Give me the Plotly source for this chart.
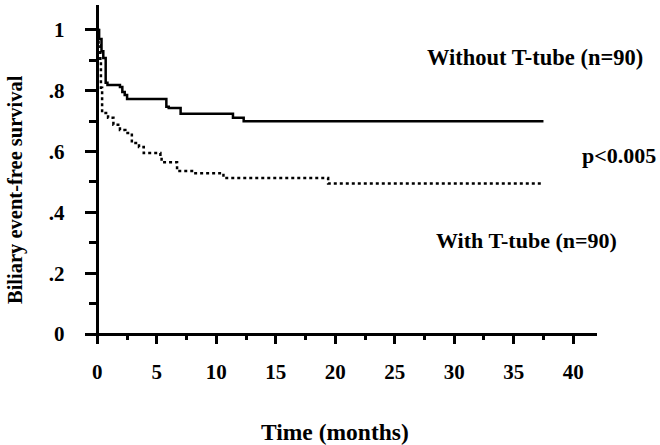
import plotly.graph_objects as go

# Kaplan-Meier step data (months, survival)
without_t = [0, 0.15, 0.35, 0.5, 0.7, 0.85, 1.9, 2.1, 2.3, 2.5, 5.8, 6.0, 7.0, 11.4, 12.3, 37.5]
without_s = [1.0, 0.97, 0.93, 0.908, 0.826, 0.819, 0.812, 0.796, 0.786, 0.773, 0.747, 0.743, 0.724, 0.711, 0.700, 0.700]

with_t = [0, 0.1, 0.25, 0.3, 0.4, 0.9, 1.35, 1.9, 2.35, 2.9, 3.5, 3.9, 5.3, 5.4, 6.7, 8.1, 10.6, 19.4, 37.5]
with_s = [1.0, 0.95, 0.90, 0.81, 0.727, 0.711, 0.688, 0.671, 0.661, 0.628, 0.615, 0.595, 0.582, 0.565, 0.536, 0.529, 0.513, 0.495, 0.495]

y_tickvals = [0, 0.2, 0.4, 0.6, 0.8, 1.0]
y_ticktext = ["0", ".2", ".4", ".6", ".8", "1"]
x_tickvals = [0, 5, 10, 15, 20, 25, 30, 35, 40]

W, H = 660, 445
ML, MR, MT, MB = 87, 63, 5, 104
XR = [-0.87, 42.0]
YR = [-0.023, 1.082]

FONT = "Liberation Serif"

fig = go.Figure()
fig.add_trace(go.Scatter(x=without_t, y=without_s, mode="lines", line_shape="hv",
                         line=dict(color="black", width=2.5), showlegend=False))
fig.add_trace(go.Scatter(x=with_t, y=with_s, mode="lines", line_shape="hv",
                         line=dict(color="black", width=2.5, dash="dot"), showlegend=False))

ypos = (0 - XR[0]) / (XR[1] - XR[0])
xpos = (0 - YR[0]) / (YR[1] - YR[0])

fig.update_layout(
    width=W, height=H,
    margin=dict(l=ML, r=MR, t=MT, b=MB),
    paper_bgcolor="white", plot_bgcolor="white",
    font=dict(family=FONT, color="black", size=20),
    xaxis=dict(range=XR, anchor="free", position=xpos, showline=True, linecolor="black",
               linewidth=2.5, showgrid=False, zeroline=False,
               tickvals=x_tickvals, ticks="outside", ticklen=8, tickwidth=2.5,
               tickcolor="black", ticklabelstandoff=10,
               tickfont=dict(family=FONT, size=21, weight="bold"),
               minor=dict(dtick=2.5, tick0=0, ticks="outside", ticklen=4, tickwidth=2.5,
                          tickcolor="black", showgrid=False)),
    yaxis=dict(range=YR, anchor="free", position=ypos, showline=True, linecolor="black",
               linewidth=2.5, showgrid=False, zeroline=False,
               tickvals=y_tickvals, ticktext=y_ticktext, ticks="outside", ticklen=12,
               tickwidth=2.5, tickcolor="black", ticklabelstandoff=16,
               tickfont=dict(family=FONT, size=21, weight="bold"),
               minor=dict(dtick=0.1, tick0=0, ticks="outside", ticklen=8, tickwidth=2.5,
                          tickcolor="black", showgrid=False)),
)

pw = W - ML - MR
ph = H - MT - MB

def px_to_paper(px, py):
    return (px - ML) / pw, 1 - (py - MT) / ph

for text, (px, py), ang, size in [
    ("Without T-tube (n=90)", (535, 57), 0, 22.5),
    ("p<0.005", (619, 155), 0, 22),
    ("With T-tube (n=90)", (526, 240), 0, 22),
    ("Time (months)", (335, 432), 0, 23.5),
    ("Biliary event-free survival", (15, 190), -90, 20.5),
]:
    xp, yp = px_to_paper(px, py)
    fig.add_annotation(x=xp, y=yp, xref="paper", yref="paper", text=text,
                       showarrow=False, xanchor="center", yanchor="middle",
                       textangle=ang,
                       font=dict(family=FONT, size=size, color="black", weight="bold"))

fig.write_html("out.html", config={"displayModeBar": False},
               post_script="document.body.style.margin='0';document.body.style.padding='0';")
